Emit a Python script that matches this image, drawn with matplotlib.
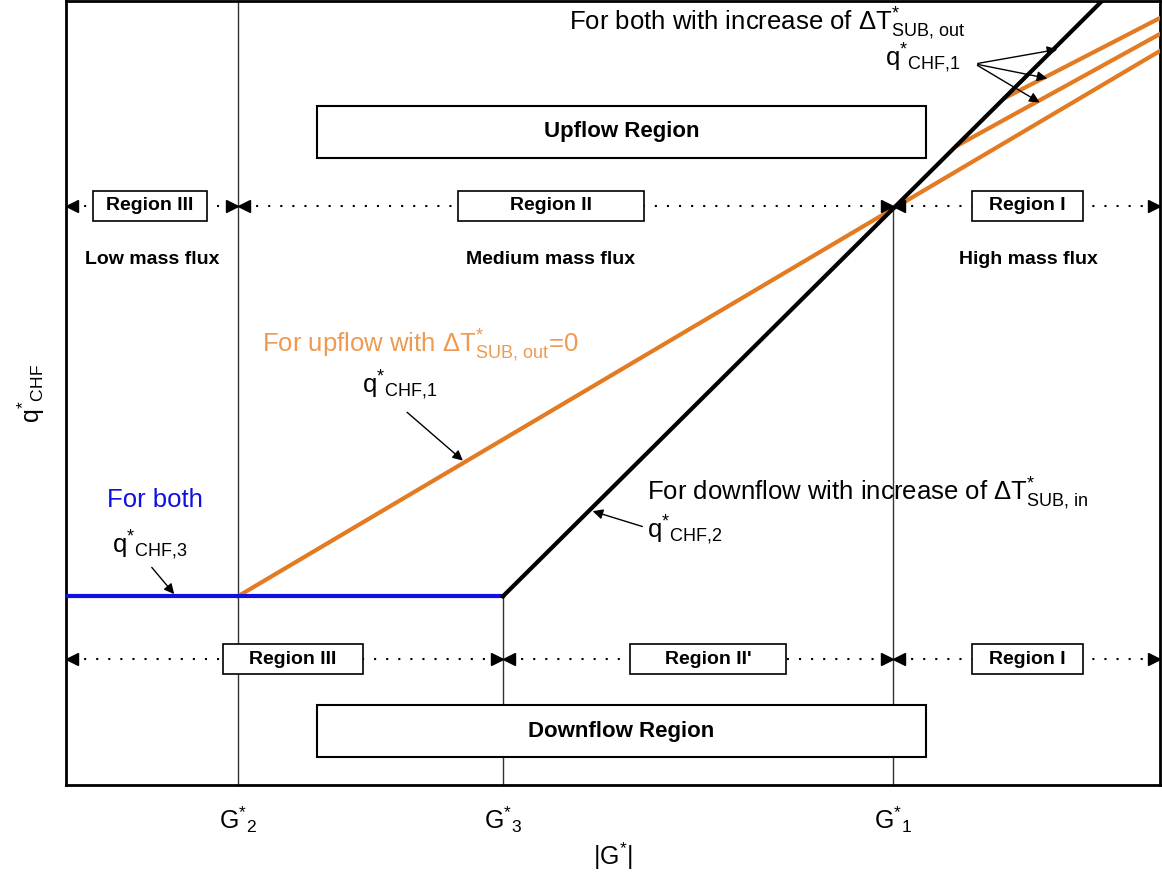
import matplotlib
matplotlib.use("Agg")
import matplotlib.pyplot as plt
from matplotlib.patches import Rectangle

plt.rcParams['font.family'] = ['Liberation Sans', 'DejaVu Sans']
plt.rcParams['mathtext.fontset'] = 'custom'
plt.rcParams['mathtext.rm'] = 'Liberation Sans'
plt.rcParams['mathtext.it'] = 'Liberation Sans:italic'
plt.rcParams['mathtext.bf'] = 'Liberation Sans:bold'

# schematic coordinates (x = |G*|, y = q*CHF), arbitrary units
x_min, x_max = 66, 1160
y_min, y_max = 0, 785
g_names = ['G$^{*}$$_{2}$', 'G$^{*}$$_{3}$', 'G$^{*}$$_{1}$']
g_values = [238, 503, 893]          # G*2, G*3, G*1
q_chf3 = 189                        # flat level of q*CHF,3

blue_x = [66, 503]
blue_y = [189, 189]
orange_x = [238, 893, 1160]
orange_y = [189, 577, 735]
orange2_x = [957, 1160]
orange2_y = [640, 752]
orange3_x = [1005, 1160]
orange3_y = [688, 768]
black_x = [503, 893, 1102]
black_y = [189, 577, 785]

upper_row_edges = [66, 238, 893, 1160]
upper_row_names = ['Region III', 'Region II', 'Region I']
lower_row_edges = [66, 503, 893, 1160]
lower_row_names = ['Region III', "Region II'", 'Region I']
flux_names = ['Low mass flux', 'Medium mass flux', 'High mass flux']

ORANGE = '#E37B22'
ORANGE_TXT = '#EE9A50'
BLUE = '#1010E0'

fig = plt.figure(figsize=(11.62, 8.73), dpi=100)
ax = fig.add_axes([66 / 1162, 88 / 873, 1094 / 1162, 784 / 873])
ax.set_xlim(x_min, x_max)
ax.set_ylim(y_min, y_max)
for s in ax.spines.values():
    s.set_linewidth(2)

# vertical boundaries
ax.plot([g_values[0]] * 2, [y_min, y_max], color='#333333', lw=1)
ax.plot([g_values[1]] * 2, [y_min, q_chf3], color='#333333', lw=1)
ax.plot([g_values[2]] * 2, [y_min, orange_y[1]], color='#333333', lw=1)

# curves
ax.plot(blue_x, blue_y, color=BLUE, lw=3, zorder=4)
ax.plot(orange_x, orange_y, color=ORANGE, lw=3, zorder=3)
ax.plot(orange2_x, orange2_y, color=ORANGE, lw=3, zorder=3)
ax.plot(orange3_x, orange3_y, color=ORANGE, lw=3, zorder=3)
ax.plot(black_x, black_y, color='black', lw=3, zorder=4)


def region_row(edges, names, y, centers):
    for i, name in enumerate(names):
        a, b = edges[i], edges[i + 1]
        ax.plot([a + 6, b - 6], [y, y], color='black', lw=1.5,
                linestyle=(0, (1, 4.8)), zorder=2)
        ax.plot([a + 6], [y], marker='<', color='black', ms=8, zorder=5)
        ax.plot([b - 6], [y], marker='>', color='black', ms=8, zorder=5)
        cx, w = centers[i]
        ax.add_patch(Rectangle((cx - w / 2, y - 15), w, 30, facecolor='white',
                               edgecolor='black', lw=1.2, zorder=6))
        ax.text(cx, y, name, ha='center', va='center', fontsize=14,
                fontweight='bold', zorder=7)


region_row(upper_row_edges, upper_row_names, 580,
           [(150, 114), (551, 186), (1027, 111)])
region_row(lower_row_edges, lower_row_names, 126,
           [(293, 140), (708, 156), (1027, 111)])

# flow region boxes
for yb, label in [(628, 'Upflow Region'), (28, 'Downflow Region')]:
    ax.add_patch(Rectangle((317, yb), 609, 52, facecolor='white',
                           edgecolor='black', lw=1.5, zorder=6))
    ax.text(621.5, yb + 26, label, ha='center', va='center', fontsize=16,
            fontweight='bold', zorder=7)

for cx, name in zip([152, 551, 1028], flux_names):
    ax.text(cx, 526, name, ha='center', va='center', fontsize=14,
            fontweight='bold')

# annotations
FS = 18.5
arrow_kw = dict(arrowstyle='-|>', color='black', lw=1, mutation_scale=15)

ax.text(569, 762, 'For both with increase of \u0394T$^{*}_{\\rm SUB{,}\\ out}$',
        fontsize=FS, ha='left', va='center')
ax.text(885, 728, 'q$^{*}$$_{\\rm CHF{,}1}$', fontsize=FS, ha='left', va='center')
for tx, ty in [(1060, 737), (1050, 707), (1042, 682)]:
    ax.annotate('', xy=(tx, ty), xytext=(975, 722), arrowprops=arrow_kw)

ax.text(262, 440, 'For upflow with \u0394T$^{*}_{\\rm SUB{,}\\ out}$=0',
        color=ORANGE_TXT, fontsize=FS, ha='left', va='center')
ax.text(362, 400, 'q$^{*}$$_{\\rm CHF{,}1}$', fontsize=FS, ha='left', va='center')
ax.annotate('', xy=(465, 323), xytext=(405, 375), arrowprops=arrow_kw)

ax.text(647, 292, 'For downflow with increase of \u0394T$^{*}_{\\rm SUB{,}\\ in}$',
        fontsize=FS, ha='left', va='center')
ax.text(647, 255, 'q$^{*}$$_{\\rm CHF{,}2}$', fontsize=FS, ha='left', va='center')
ax.annotate('', xy=(590, 275), xytext=(645, 258), arrowprops=arrow_kw)

ax.text(107, 285, 'For both', color=BLUE, fontsize=FS, ha='left', va='center')
ax.text(112, 240, 'q$^{*}$$_{\\rm CHF{,}3}$', fontsize=FS, ha='left', va='center')
ax.annotate('', xy=(176, 189), xytext=(150, 220), arrowprops=arrow_kw)

ax.set_xticks(g_values)
ax.set_xticklabels(g_names, fontsize=18)
ax.tick_params(axis='x', length=0, pad=14)
ax.set_yticks([])
ax.set_xlabel('|G$^{*}$|', fontsize=18, labelpad=4)
ax.set_ylabel('q$^{*}$$_{\\rm CHF}$', fontsize=18, labelpad=14)

fig.savefig('out.png', dpi=100)
